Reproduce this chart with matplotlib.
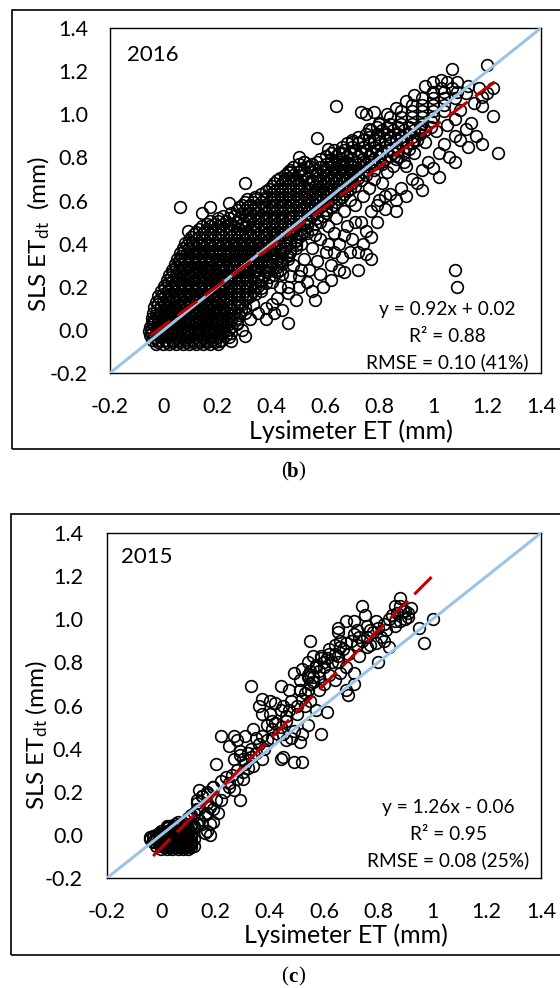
import matplotlib
matplotlib.use("Agg")
import matplotlib.pyplot as plt
from matplotlib.patches import Rectangle

plt.rcParams["font.family"] = ["Lato", "DejaVu Sans"]
plt.rcParams["mathtext.fontset"] = "custom"
plt.rcParams["mathtext.rm"] = "Lato"
plt.rcParams["mathtext.it"] = "Lato:italic"

W, H = 560, 988

ticks = [-0.2, 0.0, 0.2, 0.4, 0.6, 0.8, 1.0, 1.2, 1.4]
x_tick_labels = ["-0.2", "0", "0.2", "0.4", "0.6", "0.8", "1", "1.2", "1.4"]
y_tick_labels = ["-0.2", "0.0", "0.2", "0.4", "0.6", "0.8", "1.0", "1.2", "1.4"]

# ---- 2016 (panel b) ----
# dense band, one row of lysimeter values per SLS value
b_rows = [
    (-0.065, [-0.03, -0.005, 0.02, 0.045, 0.07, 0.095, 0.12, 0.145, 0.17, 0.2]),
    (-0.045, [-0.045, -0.02, 0.005, 0.03, 0.055, 0.08, 0.105, 0.13, 0.155, 0.18, 0.215]),
    (-0.025, [-0.05, -0.025, 0.0, 0.025, 0.05, 0.075, 0.1, 0.125, 0.15, 0.175, 0.2, 0.23]),
    (-0.005, [-0.055, -0.03, -0.005, 0.02, 0.045, 0.07, 0.095, 0.12, 0.145, 0.17, 0.195, 0.22]),
    (0.015, [-0.05, -0.025, 0.0, 0.025, 0.05, 0.075, 0.1, 0.125, 0.15, 0.175, 0.2, 0.225, 0.25]),
    (0.035, [-0.045, -0.02, 0.005, 0.03, 0.055, 0.08, 0.105, 0.13, 0.155, 0.18, 0.205, 0.23]),
    (0.055, [-0.045, -0.02, 0.005, 0.03, 0.055, 0.08, 0.105, 0.13, 0.155, 0.18, 0.205, 0.24, 0.27]),
    (0.08, [-0.04, -0.015, 0.01, 0.035, 0.06, 0.085, 0.11, 0.135, 0.16, 0.185, 0.21, 0.235, 0.26]),
    (0.105, [-0.035, -0.01, 0.015, 0.04, 0.065, 0.09, 0.115, 0.14, 0.165, 0.19, 0.215, 0.24, 0.27, 0.3]),
    (0.13, [-0.03, -0.005, 0.02, 0.045, 0.07, 0.095, 0.12, 0.145, 0.17, 0.195, 0.22, 0.245, 0.28]),
    (0.155, [-0.02, 0.005, 0.03, 0.055, 0.08, 0.105, 0.13, 0.155, 0.18, 0.205, 0.23, 0.26, 0.29, 0.32]),
    (0.18, [-0.01, 0.015, 0.04, 0.065, 0.09, 0.115, 0.14, 0.165, 0.19, 0.215, 0.24, 0.27, 0.3, 0.33]),
    (0.205, [0.0, 0.025, 0.05, 0.075, 0.1, 0.125, 0.15, 0.175, 0.2, 0.225, 0.25, 0.28, 0.31, 0.35]),
    (0.23, [0.01, 0.035, 0.06, 0.085, 0.11, 0.135, 0.16, 0.185, 0.21, 0.235, 0.26, 0.29, 0.32, 0.36]),
    (0.255, [0.02, 0.045, 0.07, 0.095, 0.12, 0.145, 0.17, 0.195, 0.22, 0.245, 0.27, 0.3, 0.33, 0.37, 0.41]),
    (0.28, [0.03, 0.055, 0.08, 0.105, 0.13, 0.155, 0.18, 0.205, 0.23, 0.26, 0.29, 0.32, 0.35, 0.39, 0.43]),
    (0.305, [0.04, 0.065, 0.09, 0.115, 0.14, 0.165, 0.19, 0.215, 0.24, 0.27, 0.3, 0.33, 0.36, 0.4, 0.44]),
    (0.33, [0.05, 0.075, 0.1, 0.125, 0.15, 0.175, 0.2, 0.23, 0.26, 0.29, 0.32, 0.35, 0.38, 0.42, 0.46]),
    (0.355, [0.06, 0.085, 0.11, 0.135, 0.16, 0.19, 0.22, 0.25, 0.28, 0.31, 0.34, 0.37, 0.4, 0.44]),
    (0.38, [0.07, 0.095, 0.12, 0.145, 0.17, 0.2, 0.23, 0.26, 0.29, 0.32, 0.35, 0.38, 0.41, 0.45, 0.49]),
    (0.405, [0.08, 0.105, 0.13, 0.16, 0.19, 0.22, 0.25, 0.28, 0.31, 0.34, 0.37, 0.4, 0.43, 0.47]),
    (0.43, [0.1, 0.13, 0.16, 0.19, 0.22, 0.25, 0.28, 0.31, 0.34, 0.37, 0.4, 0.43, 0.46, 0.5]),
    (0.455, [0.12, 0.15, 0.18, 0.21, 0.24, 0.27, 0.3, 0.33, 0.36, 0.39, 0.42, 0.45, 0.48, 0.52]),
    (0.48, [0.14, 0.17, 0.2, 0.23, 0.26, 0.3, 0.34, 0.37, 0.4, 0.43, 0.46, 0.49, 0.53]),
    (0.505, [0.17, 0.2, 0.23, 0.27, 0.31, 0.35, 0.38, 0.41, 0.44, 0.47, 0.5, 0.54]),
    (0.53, [0.22, 0.26, 0.3, 0.33, 0.36, 0.39, 0.42, 0.45, 0.48, 0.51, 0.55, 0.59]),
    (0.555, [0.27, 0.3, 0.33, 0.36, 0.39, 0.42, 0.45, 0.48, 0.51, 0.54, 0.57, 0.6]),
    (0.58, [0.29, 0.32, 0.35, 0.38, 0.41, 0.44, 0.47, 0.5, 0.53, 0.56, 0.59, 0.63]),
    (0.605, [0.31, 0.34, 0.38, 0.41, 0.44, 0.47, 0.5, 0.53, 0.56, 0.59, 0.62, 0.65]),
    (0.63, [0.36, 0.4, 0.43, 0.46, 0.49, 0.52, 0.55, 0.58, 0.61, 0.64, 0.67]),
    (0.655, [0.39, 0.42, 0.45, 0.48, 0.51, 0.54, 0.57, 0.6, 0.63, 0.66, 0.69]),
    (0.68, [0.41, 0.44, 0.47, 0.5, 0.54, 0.58, 0.61, 0.64, 0.67, 0.7]),
    (0.705, [0.43, 0.46, 0.49, 0.53, 0.57, 0.6, 0.63, 0.66, 0.69, 0.72]),
    (0.73, [0.46, 0.5, 0.55, 0.59, 0.62, 0.65, 0.68, 0.71, 0.74]),
    (0.755, [0.48, 0.53, 0.58, 0.61, 0.64, 0.67, 0.7, 0.73, 0.76]),
    (0.78, [0.52, 0.57, 0.62, 0.65, 0.68, 0.71, 0.74, 0.77, 0.8]),
    (0.805, [0.6, 0.64, 0.68, 0.72, 0.76, 0.8, 0.84]),
    (0.835, [0.63, 0.67, 0.71, 0.75, 0.79, 0.83, 0.87]),
    (0.865, [0.68, 0.72, 0.76, 0.8, 0.84, 0.88, 0.92]),
    (0.895, [0.72, 0.76, 0.8, 0.84, 0.88, 0.92]),
    (0.925, [0.77, 0.81, 0.85, 0.89, 0.93, 0.97]),
    (0.955, [0.8, 0.84, 0.88, 0.92, 0.96]),
    (0.985, [0.84, 0.88, 0.92, 0.96, 1.0]),
    (1.015, [0.88, 0.92, 0.96, 1.0, 1.04]),
    (1.045, [0.92, 0.96, 1.0, 1.04]),
    (1.075, [0.96, 1.0, 1.04, 1.08]),
    (1.105, [1.0, 1.04, 1.09]),
]

# second layer of the band, between the rows above
b_rows_fill = [
    (-0.055, [-0.02, 0.01, 0.035, 0.06, 0.085, 0.11, 0.135, 0.16, 0.19]),
    (-0.035, [-0.035, -0.01, 0.015, 0.04, 0.065, 0.09, 0.115, 0.14, 0.165, 0.2, 0.24]),
    (-0.015, [-0.045, -0.015, 0.01, 0.035, 0.06, 0.085, 0.11, 0.135, 0.16, 0.185, 0.21, 0.25]),
    (0.005, [-0.045, -0.02, 0.01, 0.035, 0.06, 0.085, 0.11, 0.135, 0.16, 0.185, 0.21, 0.24]),
    (0.025, [-0.04, -0.01, 0.015, 0.04, 0.065, 0.09, 0.115, 0.14, 0.165, 0.19, 0.215, 0.24, 0.27]),
    (0.045, [-0.035, -0.005, 0.02, 0.045, 0.07, 0.095, 0.12, 0.145, 0.17, 0.195, 0.22, 0.25]),
    (0.068, [-0.03, 0.0, 0.02, 0.045, 0.07, 0.095, 0.12, 0.145, 0.17, 0.195, 0.22, 0.25, 0.28]),
    (0.093, [-0.025, 0.0, 0.025, 0.05, 0.075, 0.1, 0.125, 0.15, 0.175, 0.2, 0.225, 0.25, 0.285]),
    (0.118, [-0.02, 0.005, 0.03, 0.055, 0.08, 0.105, 0.13, 0.155, 0.18, 0.205, 0.23, 0.26, 0.29]),
    (0.143, [-0.015, 0.01, 0.035, 0.06, 0.085, 0.11, 0.135, 0.16, 0.185, 0.21, 0.235, 0.27, 0.3]),
    (0.168, [-0.005, 0.02, 0.045, 0.07, 0.095, 0.12, 0.145, 0.17, 0.195, 0.22, 0.25, 0.28, 0.31, 0.34]),
    (0.193, [0.005, 0.03, 0.055, 0.08, 0.105, 0.13, 0.155, 0.18, 0.205, 0.23, 0.26, 0.29, 0.32, 0.36]),
    (0.218, [0.015, 0.04, 0.065, 0.09, 0.115, 0.14, 0.165, 0.19, 0.215, 0.24, 0.27, 0.3, 0.34, 0.38]),
    (0.243, [0.025, 0.05, 0.075, 0.1, 0.125, 0.15, 0.175, 0.2, 0.225, 0.25, 0.28, 0.31, 0.35, 0.39]),
    (0.268, [0.035, 0.06, 0.085, 0.11, 0.135, 0.16, 0.185, 0.21, 0.24, 0.27, 0.3, 0.34, 0.38, 0.42]),
    (0.293, [0.045, 0.07, 0.095, 0.12, 0.145, 0.17, 0.2, 0.23, 0.26, 0.29, 0.32, 0.35, 0.38, 0.42]),
    (0.318, [0.055, 0.08, 0.105, 0.13, 0.155, 0.18, 0.21, 0.24, 0.27, 0.3, 0.33, 0.36, 0.4, 0.44]),
    (0.343, [0.065, 0.09, 0.115, 0.14, 0.17, 0.2, 0.23, 0.26, 0.29, 0.32, 0.35, 0.38, 0.42, 0.46]),
    (0.368, [0.075, 0.1, 0.125, 0.15, 0.18, 0.21, 0.24, 0.27, 0.3, 0.33, 0.36, 0.39, 0.43, 0.47]),
    (0.393, [0.085, 0.11, 0.14, 0.17, 0.2, 0.23, 0.26, 0.29, 0.32, 0.35, 0.38, 0.41, 0.45, 0.49]),
    (0.418, [0.095, 0.12, 0.15, 0.18, 0.21, 0.24, 0.27, 0.3, 0.33, 0.36, 0.39, 0.42, 0.45, 0.49]),
    (0.443, [0.11, 0.14, 0.17, 0.2, 0.23, 0.26, 0.29, 0.32, 0.35, 0.38, 0.41, 0.44, 0.47, 0.51]),
    (0.468, [0.13, 0.16, 0.19, 0.22, 0.25, 0.28, 0.32, 0.35, 0.38, 0.41, 0.44, 0.47, 0.51, 0.55]),
    (0.493, [0.16, 0.19, 0.22, 0.25, 0.29, 0.33, 0.36, 0.39, 0.42, 0.45, 0.48, 0.52, 0.56]),
    (0.518, [0.2, 0.24, 0.28, 0.32, 0.35, 0.38, 0.41, 0.44, 0.47, 0.5, 0.53, 0.57]),
    (0.543, [0.25, 0.29, 0.32, 0.35, 0.38, 0.41, 0.44, 0.47, 0.5, 0.53, 0.56, 0.6]),
    (0.568, [0.28, 0.31, 0.34, 0.37, 0.4, 0.43, 0.46, 0.49, 0.52, 0.55, 0.58, 0.62]),
    (0.593, [0.3, 0.33, 0.36, 0.4, 0.43, 0.46, 0.49, 0.52, 0.55, 0.58, 0.61, 0.64]),
    (0.618, [0.34, 0.38, 0.42, 0.45, 0.48, 0.51, 0.54, 0.57, 0.6, 0.63, 0.66]),
    (0.643, [0.38, 0.41, 0.44, 0.47, 0.5, 0.53, 0.56, 0.59, 0.62, 0.65, 0.68]),
    (0.668, [0.4, 0.43, 0.46, 0.49, 0.52, 0.56, 0.59, 0.62, 0.65, 0.68, 0.71]),
    (0.693, [0.42, 0.45, 0.48, 0.51, 0.55, 0.58, 0.61, 0.64, 0.67, 0.7, 0.73]),
    (0.718, [0.45, 0.48, 0.52, 0.57, 0.6, 0.63, 0.66, 0.69, 0.72, 0.75]),
    (0.743, [0.47, 0.51, 0.56, 0.6, 0.63, 0.66, 0.69, 0.72, 0.75, 0.78]),
    (0.768, [0.5, 0.55, 0.6, 0.63, 0.66, 0.69, 0.72, 0.75, 0.78, 0.81]),
    (0.793, [0.58, 0.62, 0.66, 0.7, 0.74, 0.78, 0.82, 0.86]),
    (0.82, [0.62, 0.65, 0.69, 0.73, 0.77, 0.81, 0.85, 0.89]),
    (0.85, [0.66, 0.7, 0.74, 0.78, 0.82, 0.86, 0.9]),
    (0.88, [0.7, 0.74, 0.78, 0.82, 0.86, 0.9, 0.94]),
    (0.91, [0.75, 0.79, 0.83, 0.87, 0.91, 0.95]),
    (0.94, [0.79, 0.83, 0.87, 0.91, 0.95, 0.99]),
]

# looser points and outliers of 2016
b_points = [
    (1.20, 1.23), (1.07, 1.21), (0.64, 1.04), (0.73, 1.01), (0.75, 1.00), (0.78, 1.01),
    (0.57, 0.89), (0.61, 0.84), (1.24, 0.82), (1.18, 0.86), (1.22, 0.99), (1.18, 1.04),
    (1.13, 0.85), (1.08, 0.78), (1.02, 0.71), (0.96, 0.65), (0.86, 0.55), (0.77, 0.43),
    (0.77, 0.33), (1.08, 0.28), (1.09, 0.20), (0.67, 0.27), (0.62, 0.23), (0.56, 0.14),
    (0.50, 0.20), (0.46, 0.17), (0.44, 0.09), (0.46, 0.03), (0.40, 0.12), (0.30, 0.68),
    (0.24, 0.59), (0.17, 0.57), (0.06, 0.57), (0.14, 0.54), (0.09, 0.46), (0.06, 0.33),
    (0.30, -0.03), (0.29, 0.00), (0.21, -0.05), (0.32, 0.05), (0.25, -0.05), (0.27, 0.03),
    (0.35, 0.08), (0.30, 0.08), (0.33, 0.12), (0.36, 0.18), (0.38, 0.10), (0.40, 0.22),
    (0.42, 0.15), (0.44, 0.26), (0.46, 0.20), (0.48, 0.30), (0.50, 0.25), (0.52, 0.33),
    (0.54, 0.28), (0.55, 0.38), (0.57, 0.32), (0.58, 0.42), (0.60, 0.36), (0.62, 0.30),
    (0.63, 0.45), (0.65, 0.40), (0.66, 0.34), (0.68, 0.48), (0.70, 0.42), (0.72, 0.36),
    (0.73, 0.50), (0.75, 0.46), (0.77, 0.55), (0.79, 0.50), (0.80, 0.60), (0.82, 0.56),
    (0.84, 0.63), (0.86, 0.60), (0.88, 0.66), (0.90, 0.62), (0.92, 0.70), (0.94, 0.68),
    (0.96, 0.74), (0.98, 0.78), (1.00, 0.75), (1.02, 0.82), (1.04, 0.86), (1.06, 0.80),
    (1.08, 0.90), (1.10, 0.88), (1.12, 0.93), (1.14, 0.96), (1.16, 0.90), (1.05, 0.95),
    (1.08, 0.98), (1.10, 1.02), (1.15, 1.05), (1.18, 1.08), (1.20, 1.10), (1.22, 1.12),
    (1.17, 1.12), (1.12, 1.10), (1.13, 1.13), (1.07, 1.12), (1.09, 1.15), (1.05, 1.15),
    (1.03, 1.12), (1.00, 1.10), (0.52, 0.78), (0.54, 0.76), (0.47, 0.73), (0.50, 0.80),
    (0.66, 0.82), (0.70, 0.87), (0.76, 0.93), (0.80, 0.96), (0.83, 1.00), (0.86, 1.03),
    (0.90, 1.06), (0.93, 1.09), (0.97, 1.13), (1.00, 1.15), (1.03, 1.16), (0.45, 0.70),
    (0.90, 0.76), (0.93, 0.82), (0.97, 0.87), (1.01, 0.92), (0.99, 0.97), (0.95, 0.92),
    (0.31, 0.15), (0.34, 0.20), (0.37, 0.25), (0.39, 0.30), (0.35, 0.28), (0.41, 0.35),
    (0.43, 0.32), (0.45, 0.38), (0.47, 0.36), (0.49, 0.41), (0.51, 0.40), (0.53, 0.45),
    (0.56, 0.44), (0.58, 0.50), (0.61, 0.48), (0.64, 0.52), (0.67, 0.55), (0.69, 0.60),
    (0.71, 0.58), (0.74, 0.62), (0.76, 0.66), (0.78, 0.70), (0.81, 0.68), (0.83, 0.73),
    (0.85, 0.76), (0.87, 0.80), (0.89, 0.78), (0.91, 0.84), (0.93, 0.88), (0.38, 0.05),
    (0.41, 0.08), (0.43, 0.20), (0.47, 0.25), (0.49, 0.14), (0.51, 0.28), (0.53, 0.22),
    (0.55, 0.18), (0.58, 0.26), (0.59, 0.20), (0.61, 0.40), (0.63, 0.36), (0.65, 0.28),
    (0.67, 0.44), (0.69, 0.36), (0.71, 0.50), (0.72, 0.28), (0.74, 0.40), (0.75, 0.35),
    (0.79, 0.58), (0.82, 0.62),
]
b_fit = (0.92, 0.02)
b_fit_x = [-0.05, 1.25]

# ---- 2015 (panel c) ----
c_rows = [
    (-0.065, [0.0, 0.02, 0.04, 0.06, 0.08, 0.1]),
    (-0.058, [0.01, 0.03, 0.05, 0.07, 0.09, 0.11]),
    (-0.05, [-0.02, 0.0, 0.02, 0.04, 0.06, 0.08, 0.1, 0.12]),
    (-0.043, [-0.01, 0.01, 0.03, 0.05, 0.07, 0.09, 0.11]),
    (-0.035, [-0.03, -0.01, 0.01, 0.03, 0.05, 0.07, 0.09, 0.11]),
    (-0.028, [-0.03, -0.01, 0.01, 0.03, 0.05, 0.07, 0.09, 0.11]),
    (-0.02, [-0.04, -0.02, 0.0, 0.02, 0.04, 0.06, 0.08, 0.1, 0.12]),
    (-0.012, [-0.03, -0.01, 0.01, 0.03, 0.05, 0.07, 0.09, 0.11]),
    (-0.005, [-0.03, -0.01, 0.01, 0.03, 0.05, 0.07, 0.09, 0.11]),
    (0.0, [-0.02, 0.0, 0.02, 0.04, 0.06, 0.08, 0.1]),
    (0.01, [-0.01, 0.01, 0.03, 0.05, 0.07, 0.09, 0.11]),
    (0.02, [0.0, 0.02, 0.04, 0.06, 0.08, 0.1]),
    (0.03, [0.02, 0.04, 0.06, 0.08, 0.1, 0.12]),
    (0.04, [0.03, 0.05, 0.07, 0.09, 0.11]),
    (0.05, [0.05, 0.07, 0.09, 0.11, 0.13]),
]

c_points = [
    (0.88, 1.10), (0.74, 1.06), (0.75, 1.02), (0.86, 1.06), (0.90, 1.04), (0.91, 1.01),
    (0.88, 0.99), (0.86, 0.97), (1.00, 1.00), (0.95, 0.96), (0.97, 0.89), (0.68, 0.99),
    (0.71, 0.99), (0.65, 0.96), (0.65, 0.94), (0.72, 0.95), (0.76, 0.97), (0.77, 0.95),
    (0.81, 0.92), (0.79, 0.89), (0.82, 0.90), (0.84, 0.87), (0.80, 0.80), (0.76, 0.87),
    (0.73, 0.83), (0.68, 0.89), (0.66, 0.87), (0.64, 0.84), (0.55, 0.90), (0.62, 0.84),
    (0.59, 0.82), (0.56, 0.83), (0.54, 0.80), (0.57, 0.78), (0.60, 0.80), (0.65, 0.80),
    (0.68, 0.78), (0.71, 0.75), (0.66, 0.75), (0.64, 0.72), (0.68, 0.67), (0.69, 0.65),
    (0.71, 0.70), (0.49, 0.75), (0.51, 0.72), (0.54, 0.73), (0.56, 0.71), (0.58, 0.67),
    (0.54, 0.67), (0.51, 0.67), (0.47, 0.67), (0.44, 0.69), (0.33, 0.69), (0.61, 0.57),
    (0.59, 0.47), (0.54, 0.51), (0.52, 0.47), (0.51, 0.43), (0.48, 0.45), (0.49, 0.48),
    (0.46, 0.53), (0.44, 0.58), (0.42, 0.61), (0.40, 0.62), (0.37, 0.63), (0.36, 0.60),
    (0.37, 0.56), (0.40, 0.56), (0.41, 0.53), (0.39, 0.51), (0.41, 0.49), (0.45, 0.47),
    (0.46, 0.44), (0.44, 0.35), (0.45, 0.36), (0.49, 0.34), (0.52, 0.34), (0.22, 0.46),
    (0.27, 0.46), (0.28, 0.44), (0.31, 0.46), (0.34, 0.49), (0.35, 0.45), (0.25, 0.41),
    (0.29, 0.39), (0.32, 0.38), (0.33, 0.36), (0.37, 0.35), (0.30, 0.35), (0.34, 0.32),
    (0.20, 0.33), (0.24, 0.27), (0.22, 0.25), (0.25, 0.22), (0.28, 0.26), (0.30, 0.26),
    (0.27, 0.21), (0.22, 0.16), (0.29, 0.16), (0.14, 0.21), (0.15, 0.18), (0.17, 0.19),
    (0.19, 0.22), (0.13, 0.16), (0.17, 0.15), (0.19, 0.12), (0.17, 0.10), (0.13, 0.12),
    (0.11, 0.09), (0.14, 0.07), (0.18, 0.05), (0.18, 0.00), (0.16, 0.01), (0.06, 0.06),
    (0.02, 0.04), (-0.04, -0.01), (0.00, 0.01), (0.10, 0.08), (0.12, 0.10), (0.14, 0.12),
    (0.16, 0.09), (0.18, 0.13), (0.20, 0.16), (0.12, 0.04), (0.15, 0.05), (0.17, 0.02),
    (0.19, 0.06), (0.21, 0.10), (0.13, 0.15), (0.15, 0.18), (0.17, 0.20), (0.19, 0.22),
    (0.23, 0.20), (0.25, 0.24), (0.26, 0.28), (0.28, 0.30), (0.30, 0.29), (0.31, 0.33),
    (0.27, 0.35), (0.29, 0.37), (0.32, 0.31), (0.33, 0.40), (0.35, 0.38), (0.36, 0.42),
    (0.38, 0.40), (0.37, 0.46), (0.39, 0.44), (0.41, 0.45), (0.43, 0.47), (0.42, 0.52),
    (0.44, 0.50), (0.46, 0.55), (0.45, 0.60), (0.47, 0.58), (0.48, 0.62), (0.50, 0.60),
    (0.52, 0.63), (0.51, 0.67), (0.53, 0.66), (0.55, 0.70), (0.54, 0.74), (0.56, 0.73),
    (0.58, 0.76), (0.57, 0.79), (0.60, 0.78), (0.59, 0.83), (0.61, 0.82), (0.62, 0.86),
    (0.63, 0.80), (0.65, 0.83), (0.64, 0.88), (0.66, 0.90), (0.67, 0.86), (0.69, 0.84),
    (0.70, 0.90), (0.72, 0.88), (0.71, 0.93), (0.73, 0.92), (0.74, 0.90), (0.76, 0.92),
    (0.77, 0.88), (0.78, 0.94), (0.80, 0.96), (0.79, 0.99), (0.82, 0.98), (0.83, 0.95),
    (0.84, 1.00), (0.85, 1.02), (0.87, 1.03), (0.89, 1.04), (0.90, 1.00), (0.88, 1.06),
    (0.86, 0.99), (0.91, 1.03), (0.92, 1.05), (0.52, 0.77), (0.55, 0.76), (0.58, 0.73),
    (0.60, 0.70), (0.62, 0.74), (0.53, 0.60), (0.55, 0.62), (0.57, 0.58), (0.50, 0.56),
]
c_fit = (1.26, -0.06)
c_fit_x = [-0.03, 1.0]


def fx(px):
    return px / W


def fy(py):
    return 1 - py / H


def draw_panel(fig, box, frame, row_sets, points, fit, fit_x, year, year_xy,
               eq_lines, eq_xy, ylabel, ylabel_xy, xlabel_xy, caption_xy, caption, ypad):
    # outer frame of the panel
    fig.add_artist(Rectangle((fx(frame[0]), fy(frame[3])), fx(frame[2] - frame[0]),
                             (frame[3] - frame[1]) / H, transform=fig.transFigure,
                             fill=False, edgecolor="black", linewidth=1.2))
    left, top, right, bottom = box
    ax = fig.add_axes([fx(left), fy(bottom), fx(right - left), (bottom - top) / H])

    xs = [p[0] for p in points]
    ys = [p[1] for p in points]
    for rows in row_sets:
        for y, row in rows:
            xs += row
            ys += [y] * len(row)
    ax.plot(xs, ys, "o", ms=8.4, mfc="none", mec="black", mew=1.2, zorder=2)
    ax.plot([-0.2, 1.4], [-0.2, 1.4], color="#9DC3E6", lw=2.2, zorder=3)
    ax.plot(fit_x, [fit[0] * x + fit[1] for x in fit_x], color="#C00000", lw=2.2,
            linestyle=(0, (8, 3)), zorder=4)

    ax.set_xlim(-0.2, 1.4)
    ax.set_ylim(-0.2, 1.4)
    ax.set_xticks(ticks, labels=x_tick_labels)
    ax.set_yticks(ticks, labels=y_tick_labels)
    ax.tick_params(axis="both", length=0, labelsize=15.5)
    ax.tick_params(axis="y", pad=ypad)
    ax.tick_params(axis="x", pad=17)
    for s in ax.spines.values():
        s.set_linewidth(1.0)

    fig.text(fx(year_xy[0]), fy(year_xy[1]), year, fontsize=16, ha="left", va="center")
    for i, line in enumerate(eq_lines):
        fig.text(fx(eq_xy[0]), fy(eq_xy[1] + i * 26), line, fontsize=13.8,
                 ha="center", va="center")
    fig.text(fx(ylabel_xy[0]), fy(ylabel_xy[1]), ylabel, fontsize=17.5, rotation=90,
             ha="center", va="center")
    fig.text(fx(xlabel_xy[0]), fy(xlabel_xy[1]), "Lysimeter ET (mm)", fontsize=18,
             ha="center", va="center")
    cx, cy = caption_xy
    fig.text(fx(cx), fy(cy), caption, fontsize=15, fontweight="bold",
             family="Liberation Serif", ha="center", va="center")
    fig.text(fx(cx - 5), fy(cy), "(", fontsize=15, family="Liberation Serif",
             ha="right", va="center")
    fig.text(fx(cx + 5), fy(cy), ")", fontsize=15, family="Liberation Serif",
             ha="left", va="center")
    return ax


fig = plt.figure(figsize=(W / 100, H / 100), dpi=100)

draw_panel(fig, (110, 28, 541, 373), (12, 10, 566, 449), [b_rows, b_rows_fill], b_points,
           b_fit, b_fit_x, "2016", (127, 55),
           ["y = 0.92x + 0.02", "R² = 0.88", "RMSE = 0.10 (41%)"], (447, 310),
           r"SLS ET$_{\mathrm{dt}}$  (mm)", (39, 234), (351, 431), (293, 472), "b", 15.8)

draw_panel(fig, (107, 533, 541, 878), (11, 514, 566, 955), [c_rows], c_points,
           c_fit, c_fit_x, "2015", (121, 557),
           ["y = 1.26x - 0.06", "R² = 0.95", "RMSE = 0.08 (25%)"], (448, 808),
           r"SLS ET$_{\mathrm{dt}}$ (mm)", (37, 735), (346, 935), (293, 977), "c", 17.3)

fig.savefig("out.png", dpi=100)
